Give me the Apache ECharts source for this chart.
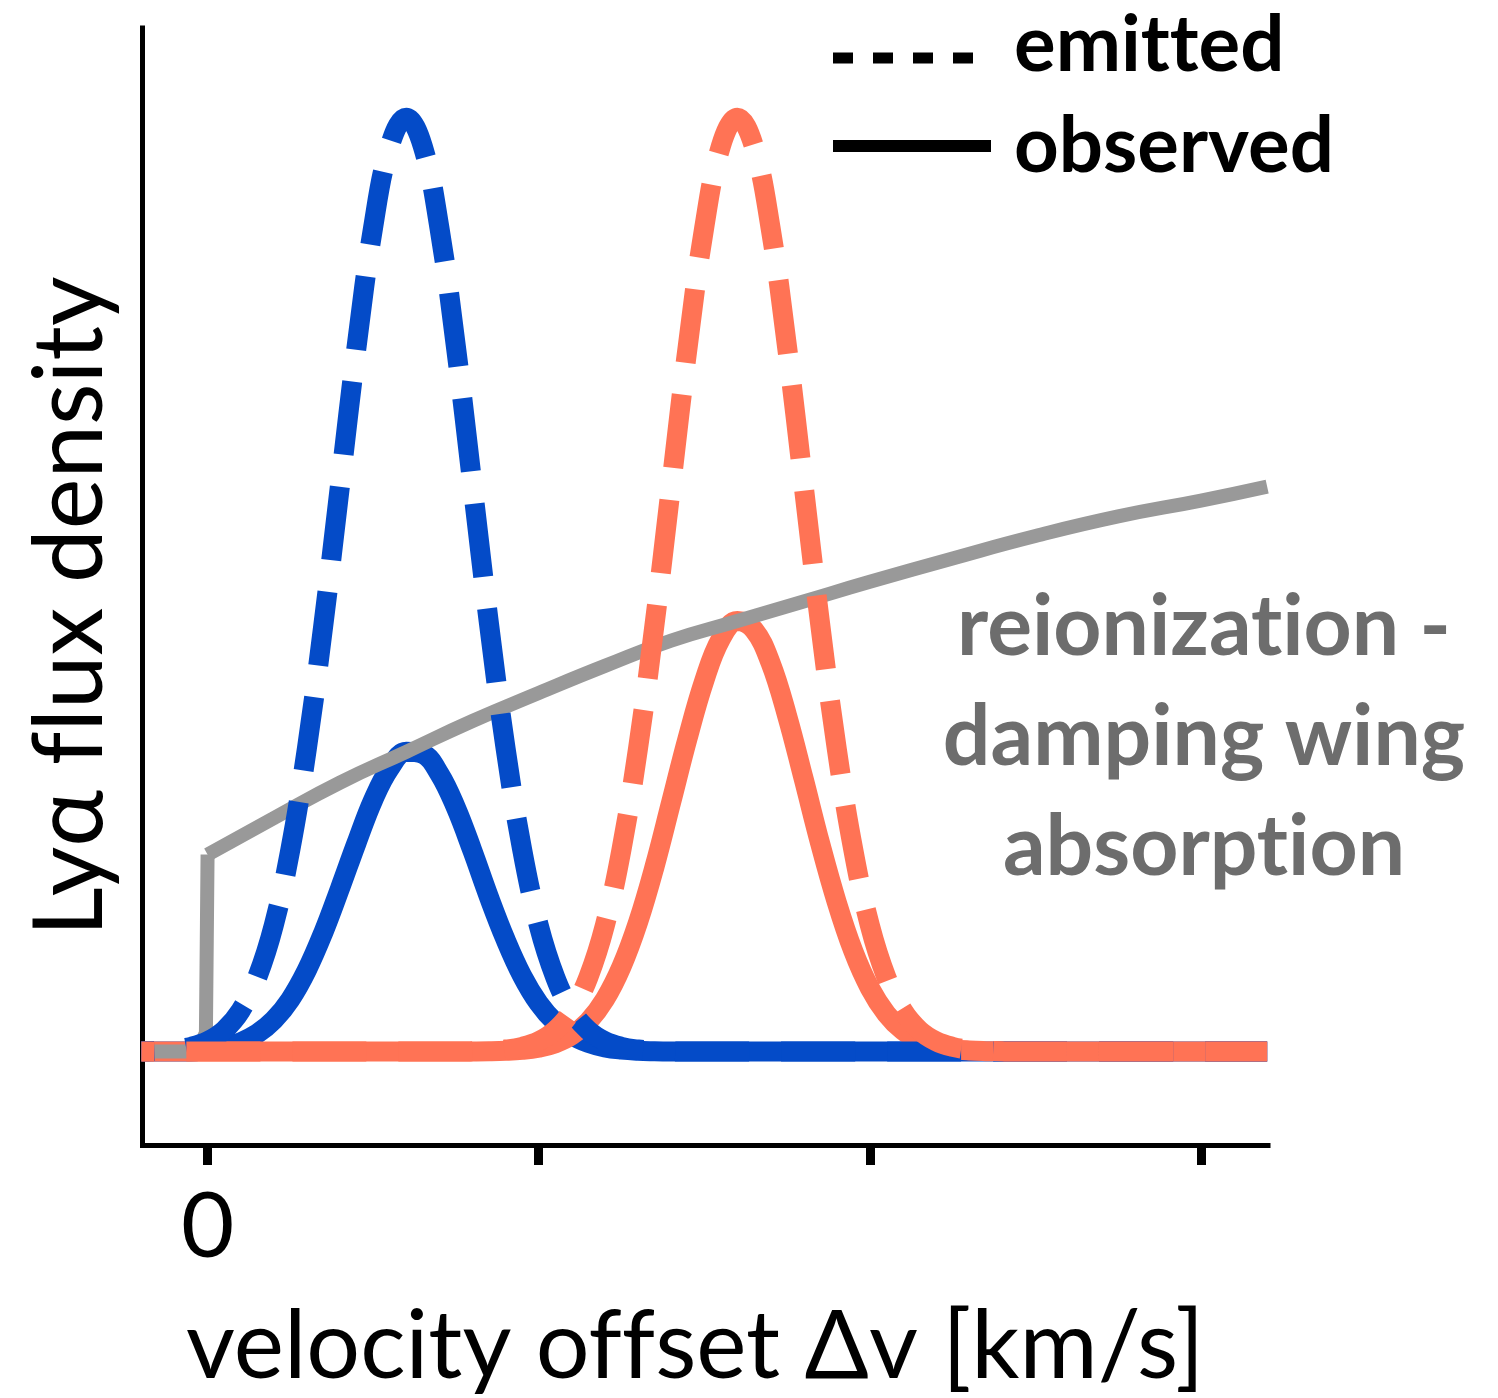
<!DOCTYPE html>
<html>
<head>
<meta charset="utf-8">
<script src="https://cdn.jsdelivr.net/npm/echarts@6/dist/echarts.min.js"></script>
<style>
  html, body { margin: 0; padding: 0; background: #fff; }
  #chart { width: 1498px; height: 1398px; }
</style>
</head>
<body>
<div id="chart"></div>
<script>
// Velocity grid (km/s) shared by the line profiles
const velocity = [
  -40, -30, -20, -10, 0, 10, 20, 30, 40, 50, 60, 70, 80, 90, 100, 110, 120, 130, 140, 150,
  160, 170, 180, 190, 200, 210, 220, 230, 240, 250, 260, 270, 280, 290, 300, 310, 320, 330, 340, 350,
  360, 370, 380, 390, 400, 410, 420, 430, 440, 450, 460, 470, 480, 490, 500, 510, 520, 530, 540, 550,
  560, 570, 580, 590, 600, 610, 620, 630, 640
];

// Intrinsic (emitted) Lyα profiles
const emittedBlue = [
  0.0003, 0.0009, 0.0022, 0.0051, 0.0111, 0.0228, 0.0439, 0.0796, 0.1353, 0.2163,
  0.3247, 0.4578, 0.6065, 0.7548, 0.8825, 0.9692, 1.0, 0.9692, 0.8825, 0.7548,
  0.6065, 0.4578, 0.3247, 0.2163, 0.1353, 0.0796, 0.0439, 0.0228, 0.0111, 0.0051,
  0.0022, 0.0009, 0.0003, 0, 0, 0, 0, 0, 0, 0,
  0, 0, 0, 0, 0, 0, 0, 0, 0, 0,
  0, 0, 0, 0, 0, 0, 0, 0, 0, 0,
  0, 0, 0, 0, 0, 0, 0, 0, 0
];
const emittedRed = [
  0, 0, 0, 0, 0, 0, 0, 0, 0, 0,
  0, 0, 0, 0, 0, 0, 0, 0, 0, 0,
  0.0003, 0.0009, 0.0022, 0.0051, 0.0111, 0.0228, 0.0439, 0.0796, 0.1353, 0.2163,
  0.3247, 0.4578, 0.6065, 0.7548, 0.8825, 0.9692, 1.0, 0.9692, 0.8825, 0.7548,
  0.6065, 0.4578, 0.3247, 0.2163, 0.1353, 0.0796, 0.0439, 0.0228, 0.0111, 0.0051,
  0.0022, 0.0009, 0.0003, 0, 0, 0, 0, 0, 0, 0,
  0, 0, 0, 0, 0, 0, 0, 0, 0
];

// Profiles after damping-wing absorption (observed)
const observedBlue = [
  0, 0, 0, 0, 0.0023, 0.0051, 0.0101, 0.0192, 0.0338, 0.0559,
  0.0874, 0.1278, 0.1748, 0.2235, 0.2693, 0.3033, 0.3210, 0.3188, 0.2976, 0.2612,
  0.2149, 0.1653, 0.1199, 0.0812, 0.0518, 0.0313, 0.0176, 0.0093, 0.0045, 0.0021,
  0.0009, 0.0004, 0.0001, 0, 0, 0, 0, 0, 0, 0,
  0, 0, 0, 0, 0, 0, 0, 0, 0, 0,
  0, 0, 0, 0, 0, 0, 0, 0, 0, 0,
  0, 0, 0, 0, 0, 0, 0, 0, 0
];
const observedRed = [
  0, 0, 0, 0, 0, 0, 0, 0, 0, 0,
  0, 0, 0, 0, 0, 0, 0, 0, 0, 0,
  0.0001, 0.0003, 0.0008, 0.0019, 0.0043, 0.0089, 0.0175, 0.0323, 0.0559, 0.0908,
  0.1383, 0.1982, 0.2669, 0.3359, 0.3971, 0.4420, 0.4610, 0.4516, 0.4165, 0.3600,
  0.2923, 0.2229, 0.1601, 0.1077, 0.0681, 0.0404, 0.0225, 0.0118, 0.0058, 0.0027,
  0.0012, 0.0005, 0.0002, 0, 0, 0, 0, 0, 0, 0,
  0, 0, 0, 0, 0, 0, 0, 0, 0
];

// IGM transmission curve (damping wing): the sharp step at zero, then the smooth wing
const dampingStepVelocity = [-34, -6, -1, 0];
const dampingStepTransmission = [0, 0, 0.02, 0.211];
const dampingVelocity = [0, 40, 80, 120, 160, 200, 240, 280, 320, 360, 400, 450, 500, 550, 600, 640];
const dampingTransmission = [0.211, 0.250, 0.288, 0.321, 0.354, 0.384, 0.413, 0.440, 0.461, 0.482, 0.503, 0.528, 0.552, 0.573, 0.590, 0.605];

// Axis ticks
const tickValues = [0, 200, 400, 600];
const tickLabels = [0];

const BLUE = '#044bc8';
const RED = '#ff7355';
const GREY = '#999999';
const FONT = 'Lato';
// zero-width non-joiner keeps Lato from fusing "ti", "tt", "fl", "ff"
const NJ = '\u200C';
// both dashed profiles share one dash phase
const DASH = [74, 32];
const DASH_OFFSET = 61;

const pairs = (xs, ys) => xs.map((x, i) => [x, ys[i]]);

const chart = echarts.init(document.getElementById('chart'), null, { renderer: 'canvas' });

chart.setOption({
  animation: false,
  backgroundColor: '#ffffff',
  grid: { left: 142.5, right: 230, top: 28, bottom: 253, containLabel: false, outerBoundsMode: 'none' },
  xAxis: {
    type: 'value',
    min: -39.3,
    max: 640.5,
    axisLine: { onZero: false, lineStyle: { color: '#000', width: 5, cap: 'square' } },
    axisTick: { customValues: tickValues, length: 20, lineStyle: { color: '#000', width: 9 } },
    axisLabel: {
      customValues: tickLabels,
      margin: 36,
      fontSize: 92,
      fontFamily: FONT,
      color: '#000'
    },
    splitLine: { show: false },
    name: 'velocity of' + NJ + 'f' + NJ + 'set Δv [km/s]',
    nameLocation: 'middle',
    nameGap: 155,
    nameTextStyle: { fontSize: 95, fontFamily: FONT, color: '#000', padding: [0, 20, 0, 0] }
  },
  yAxis: {
    type: 'value',
    min: -0.1,
    max: 1.096,
    axisLine: { onZero: false, lineStyle: { color: '#000', width: 5, cap: 'square' } },
    axisTick: { show: false },
    axisLabel: { show: false },
    splitLine: { show: false },
    name: 'Lyα f' + NJ + 'lux density',
    nameLocation: 'middle',
    nameRotate: 90,
    nameGap: 23,
    nameTextStyle: { fontSize: 96, fontFamily: FONT, color: '#000', padding: [0, 40, 0, 0] }
  },
  series: [
    {
      name: 'observed blue',
      type: 'line',
      z: 1,
      showSymbol: false,
      smooth: 0.4,
      data: pairs(velocity, observedBlue),
      lineStyle: { color: BLUE, width: 20, join: 'round' }
    },
    {
      name: 'observed red',
      type: 'line',
      z: 2,
      showSymbol: false,
      smooth: 0.4,
      data: pairs(velocity, observedRed),
      lineStyle: { color: RED, width: 20, join: 'round' }
    },
    {
      name: 'damping step',
      type: 'line',
      z: 3,
      showSymbol: false,
      data: pairs(dampingStepVelocity, dampingStepTransmission),
      lineStyle: { color: GREY, width: 14, join: 'round' }
    },
    {
      name: 'damping wing',
      type: 'line',
      z: 3,
      showSymbol: false,
      smooth: 0.5,
      data: pairs(dampingVelocity, dampingTransmission),
      lineStyle: { color: GREY, width: 14, join: 'round' }
    },
    {
      name: 'emitted blue',
      type: 'line',
      z: 4,
      showSymbol: false,
      smooth: 0.4,
      data: pairs(velocity, emittedBlue),
      lineStyle: { color: BLUE, width: 20, type: DASH, dashOffset: DASH_OFFSET, cap: 'butt', join: 'round' }
    },
    {
      name: 'emitted red',
      type: 'line',
      z: 5,
      showSymbol: false,
      smooth: 0.4,
      data: pairs(velocity, emittedRed),
      lineStyle: { color: RED, width: 20, type: DASH, dashOffset: DASH_OFFSET, cap: 'butt', join: 'round' }
    }
  ],
  graphic: [
    // key: line styles
    {
      type: 'line', z: 10,
      shape: { x1: 833, y1: 58, x2: 973, y2: 58 },
      style: { stroke: '#000', lineWidth: 11, lineDash: [20, 20], lineCap: 'butt' }
    },
    {
      type: 'line', z: 10,
      shape: { x1: 833, y1: 146, x2: 991, y2: 146 },
      style: { stroke: '#000', lineWidth: 12, lineCap: 'butt' }
    },
    {
      type: 'text', z: 10, x: 1014, y: 46,
      style: { text: 'emit' + NJ + 't' + NJ + 'ed', fill: '#000', font: 'bold 78px Lato', textAlign: 'left', textVerticalAlign: 'middle' }
    },
    {
      type: 'text', z: 10, x: 1014, y: 147,
      style: { text: 'observed', fill: '#000', font: 'bold 78px Lato', textAlign: 'left', textVerticalAlign: 'middle' }
    },
    // annotation for the grey transmission curve
    {
      type: 'text', z: 10, x: 1204, y: 738,
      style: {
        text: 'reionizat' + NJ + 'ion -\ndamping wing\nabsorpt' + NJ + 'ion',
        fill: '#6d6d6d',
        font: 'bold 84px Lato',
        lineHeight: 110,
        textAlign: 'center',
        textVerticalAlign: 'middle'
      }
    }
  ]
});
</script>
</body>
</html>
